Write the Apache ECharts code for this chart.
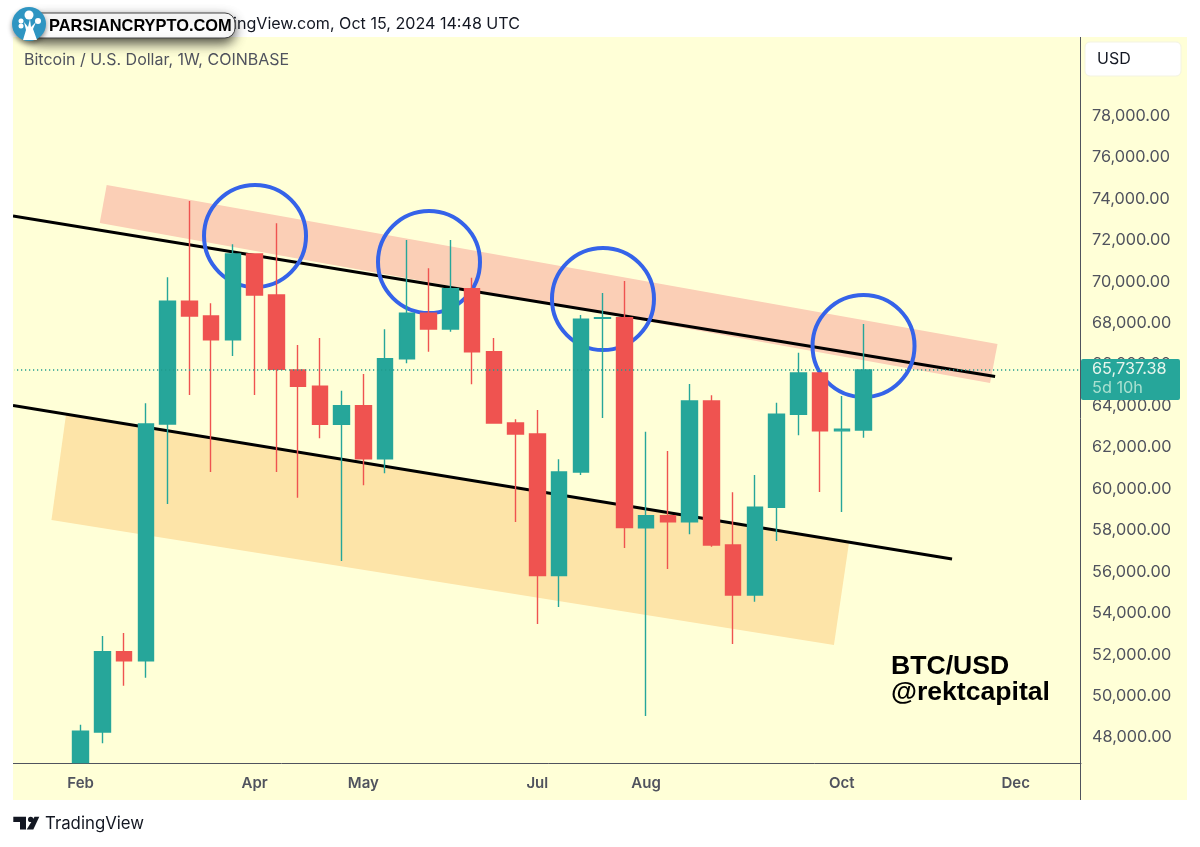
<!DOCTYPE html>
<html><head><meta charset="utf-8">
<style>html,body{margin:0;padding:0;background:#fff}#c{width:1200px;height:847px}</style>
<script src="https://cdn.jsdelivr.net/npm/echarts@6/dist/echarts.min.js"></script>
</head><body><div id="c"></div>
<script>
// Weekly axis (category index 0..49); the first candle sits at index 3
const weeks = ['2024-01-15','2024-01-22','2024-01-29','2024-02-05','2024-02-12','2024-02-19','2024-02-26','2024-03-04','2024-03-11','2024-03-18','2024-03-25','2024-04-01','2024-04-08','2024-04-15','2024-04-22','2024-04-29','2024-05-06','2024-05-13','2024-05-20','2024-05-27','2024-06-03','2024-06-10','2024-06-17','2024-06-24','2024-07-01','2024-07-08','2024-07-15','2024-07-22','2024-07-29','2024-08-05','2024-08-12','2024-08-19','2024-08-26','2024-09-02','2024-09-09','2024-09-16','2024-09-23','2024-09-30','2024-10-07','2024-10-14','2024-10-21','2024-10-28','2024-11-04','2024-11-11','2024-11-18','2024-11-25','2024-12-02','2024-12-09','2024-12-16','2024-12-23'];
const monthTicks = {'2024-02-05':'Feb','2024-04-01':'Apr','2024-05-06':'May','2024-07-01':'Jul','2024-08-05':'Aug','2024-10-07':'Oct','2024-12-02':'Dec'};
const priceTicks = [48000,50000,52000,54000,56000,58000,60000,62000,64000,66000,68000,70000,72000,74000,76000,78000];

// Weekly candles (the first body runs off the bottom of the chart; only its visible part can be read)
const opens  = [46790,48266,52141,51707,63131,69053,68343,67199,71336,69357,65737,64950,63116,64014,61456,66282,68473,67716,69661,66620,63179,62648,55819,60814,68230,68261,58126,58705,58416,64241,57291,54878,59111,63599,65592,62800,62841];
const closes = [48300,52141,51707,63131,69053,68343,67199,71336,69357,65771,64950,63116,64014,61456,66282,68473,67716,69661,66620,63179,62648,55819,60814,68184,68261,58136,58705,58416,64241,57291,54878,59111,63599,65592,62807,62875,65737.38];
const lows   = [46790,47720,50500,50887,59270,64530,60814,66413,64530,60814,59574,62441,56519,60172,60751,66060,66620,67585,65047,63179,58401,53478,54299,60669,63420,57146,49038,56133,57807,57209,52513,54554,57484,62585,59849,58884,62470];
const highs  = [48618,52899,53044,64130,70211,73893,68956,71804,71336,72817,66944,67281,64738,65544,67701,72011,70645,72011,70192,67281,63358,63806,61427,68391,69453,70032,62759,61828,65061,64516,59835,60669,64159,66572,65592,64482,67957];
const lastPrice = 65737.38;
const lastPriceLabel = '65,737.38';
const countdown = '5d 10h';

// Drawn annotations: [week position, price]
const resistanceZone = [[4.2,74666],[3.88,72832],[44.82,65110],[45.16,66992]];
const supportZone = [[2.33,63589],[1.66,58498],[37.64,52465],[38.33,57388]];
const upperTrend = [[-0.108,73170],[45.05,65423]];
const lowerTrend = [[-0.108,64024],[43.07,56615]];
const touchCircles = [[11.02,72204],[19.02,70949],[27.02,69164],[39.0,66895]];
const priceLine = [[-0.108,lastPrice],[49,lastPrice]];

const UI = 'Inter, "Liberation Sans", sans-serif';
const GREY = '#50535E', UP = '#26A69A', DOWN = '#EF5350', BG = '#FFFFD7';
const pad = weeks.slice(0,3).map(()=>'-');
const candleData = opens.map((o,i)=>[o,closes[i],lows[i],highs[i]]);
const candles = pad.concat(candleData);

const polygonSeries = (name,pts,color,z)=>({
  type:'custom',name,xAxisIndex:1,yAxisIndex:0,z,silent:true,clip:false,
  data:pts,encode:{x:0,y:1},
  renderItem:(p,api)=>{
    if(p.dataIndex!==0) return null;
    return {type:'polygon',shape:{points:pts.map(q=>api.coord(q))},style:{fill:color}};
  }
});
const lineSeries = (name,pts,style,z)=>({
  type:'line',name,xAxisIndex:1,yAxisIndex:0,z,silent:true,clip:false,
  data:pts,showSymbol:false,symbol:'none',lineStyle:style
});

const option = {
  animation:false,
  backgroundColor:'#fff',
  tooltip:{show:false},
  grid:{left:15.36,right:119,top:37,bottom:84,containLabel:false},
  xAxis:[
    {type:'category',data:weeks,boundaryGap:false,
     axisLine:{show:true,onZero:false,lineStyle:{color:GREY,width:1}},axisTick:{show:false},splitLine:{show:false},
     axisLabel:{interval:(i,v)=>!!monthTicks[v],formatter:v=>monthTicks[v]||'',color:GREY,fontFamily:UI,fontSize:15,fontWeight:600,margin:13,hideOverlap:false,showMinLabel:true,showMaxLabel:true}},
    {type:'value',min:0,max:49,show:false}
  ],
  yAxis:[{type:'value',position:'right',min:46770,max:81808,scale:true,
     axisLine:{show:false},axisTick:{show:false},splitLine:{show:false},
     axisLabel:{customValues:priceTicks,color:GREY,fontFamily:UI,fontSize:16.3,margin:11,padding:[0,0,4,0],align:'left',
       formatter:v=>v.toLocaleString('en-US',{minimumFractionDigits:2,maximumFractionDigits:2})}}],
  series:[
    polygonSeries('Resistance zone',resistanceZone,'#FBCFB6',1),
    polygonSeries('Support zone',supportZone,'#FDE4A8',1),
    lineSeries('Upper trend',upperTrend,{color:'#000',width:3},2),
    lineSeries('Lower trend',lowerTrend,{color:'#000',width:3},2),
    {type:'scatter',name:'Touches',xAxisIndex:1,yAxisIndex:0,z:3,silent:true,clip:false,data:touchCircles,
     symbol:'circle',symbolSize:102,itemStyle:{color:'rgba(0,0,0,0)',borderColor:'#3563E9',borderWidth:4,opacity:1}},
    {type:'candlestick',name:'BTCUSD',xAxisIndex:0,yAxisIndex:0,z:4,silent:true,data:candles,barWidth:16,
     itemStyle:{color:UP,color0:DOWN,borderColor:UP,borderColor0:DOWN,borderWidth:1.4}},
    lineSeries('Last price',priceLine,{color:'#1F9C8F',width:1.4,type:[1.2,2.8]},5),
    {type:'custom',name:'Last price tag',xAxisIndex:1,yAxisIndex:0,z:6,silent:true,clip:false,
     data:[[49,lastPrice]],encode:{x:0,y:1},
     renderItem:(p,api)=>{
       const c=api.coord([49,lastPrice]);
       return {type:'group',children:[
         {type:'rect',shape:{x:c[0],y:c[1]-11,width:99,height:41,r:2},style:{fill:UP}},
         {type:'text',style:{x:c[0]+11,y:c[1]-1,text:lastPriceLabel,fill:'#E6F5EC',font:'16.3px '+UI,verticalAlign:'middle'}},
         {type:'text',style:{x:c[0]+11,y:c[1]+18,text:countdown,fill:'#A9E0D0',font:'16.3px '+UI,verticalAlign:'middle'}}
       ]};
     }}
  ],
  graphic:{elements:[
    {type:'rect',z:-10,silent:true,shape:{x:13,y:37,width:1174,height:763},style:{fill:BG}},
    {type:'line',z:1,silent:true,shape:{x1:13,y1:763.5,x2:16,y2:763.5},style:{stroke:GREY,lineWidth:1}},
    {type:'line',z:1,silent:true,shape:{x1:1080.5,y1:37,x2:1080.5,y2:800},style:{stroke:GREY,lineWidth:1}},
    {type:'rect',z:1,silent:true,shape:{x:1085,y:42,width:96,height:34,r:5},style:{fill:'#fff',stroke:'#F3F3E2',lineWidth:1}},
    {type:'text',z:2,silent:true,style:{x:1097,y:59,text:'USD',fill:'#131722',font:'16px '+UI,verticalAlign:'middle'}},
    {type:'text',z:1,silent:true,style:{x:24,y:60,text:'Bitcoin / U.S. Dollar, 1W, COINBASE',fill:GREY,font:'16px '+UI,verticalAlign:'middle'}},
    {type:'text',z:1,silent:true,style:{x:520,y:24,text:'Published on TradingView.com, Oct 15, 2024 14:48 UTC',fill:'#131722',font:'16.1px '+UI,align:'right',verticalAlign:'middle'}},
    {type:'text',z:8,silent:true,style:{x:891,y:667,text:'BTC/USD',fill:'#000',font:'bold 26.6px "Liberation Sans",sans-serif',verticalAlign:'middle'}},
    {type:'text',z:8,silent:true,style:{x:891,y:693,text:'@rektcapital',fill:'#000',font:'bold 26.6px "Liberation Sans",sans-serif',verticalAlign:'middle'}},
    // Watermark
    {type:'rect',z:20,silent:true,shape:{x:30,y:13,width:205,height:25,r:10},style:{fill:'#fff',stroke:'#444',lineWidth:1,shadowBlur:12,shadowColor:'rgba(0,0,0,.7)',shadowOffsetY:5,shadowOffsetX:-1}},
    {type:'text',z:21,silent:true,style:{x:49,y:26,text:'PARSIANCRYPTO.COM',fill:'#000',font:'bold 16.4px "Liberation Sans",sans-serif',verticalAlign:'middle'}},
    {type:'circle',z:22,silent:true,shape:{cx:29,cy:24,r:17},style:{fill:'#2F95C2',shadowBlur:5,shadowColor:'rgba(0,0,0,.45)',shadowOffsetY:3}},
    {type:'polygon',z:23,silent:true,shape:{points:[[23,40],[37,40],[33,29],[36,22],[31,27],[30,19],[28,27],[24,22],[26,30]]},style:{fill:'#fff'}},
    {type:'circle',z:23,silent:true,shape:{cx:29,cy:15,r:4.5},style:{fill:'#fff'}},
    {type:'circle',z:23,silent:true,shape:{cx:38,cy:21,r:3},style:{fill:'#fff'}},
    {type:'circle',z:23,silent:true,shape:{cx:21,cy:21,r:2.5},style:{fill:'#fff'}},
    {type:'circle',z:23,silent:true,shape:{cx:21,cy:26,r:2.5},style:{fill:'#fff'}},
    // TradingView mark
    {type:'polygon',z:1,silent:true,shape:{points:[[13.3,816.7],[26,816.7],[26,829.5],[20,829.5],[20,822],[13.3,822]]},style:{fill:'#131722'}},
    {type:'circle',z:1,silent:true,shape:{cx:30.7,cy:819.4,r:2.7},style:{fill:'#131722'}},
    {type:'polygon',z:1,silent:true,shape:{points:[[34.5,816.7],[39.3,816.7],[33.3,829.5],[26.7,829.5]]},style:{fill:'#131722'}},
    {type:'text',z:1,silent:true,style:{x:45,y:824,text:'TradingView',fill:'#131722',font:'16.8px '+UI,verticalAlign:'middle'}}
  ]}
};
const chart = echarts.init(document.getElementById('c'),null,{renderer:'canvas',width:1200,height:847});
chart.setOption(option);
</script></body></html>
